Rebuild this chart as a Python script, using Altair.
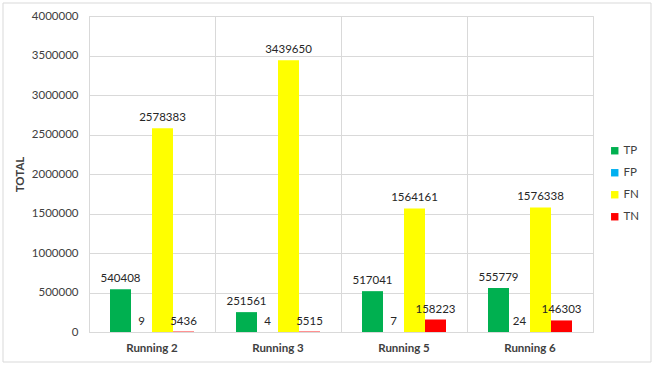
import altair as alt
import pandas as pd

runs = ["Running 2", "Running 3", "Running 5", "Running 6"]
metrics = ["TP", "FP", "FN", "TN"]
colors = ["#00B050", "#00B0F0", "#FFFF00", "#FF0000"]

tp = [540408, 251561, 517041, 555779]
fp = [9, 4, 7, 24]
fn = [2578383, 3439650, 1564161, 1576338]
tn = [5436, 5515, 158223, 146303]
y_ticks = [0, 500000, 1000000, 1500000, 2000000, 2500000, 3000000, 3500000, 4000000]

rows = []
for i, run in enumerate(runs):
    for m, vals in zip(metrics, [tp, fp, fn, tn]):
        rows.append({"run": run, "metric": m, "total": vals[i]})
df = pd.DataFrame(rows)

FONT = "Lato"
GRID = "#d9d9d9"
TEXT = "#404040"

x_enc = alt.X(
    "run:N",
    sort=runs,
    scale=alt.Scale(paddingInner=0, paddingOuter=0),
    axis=alt.Axis(
        title=None,
        labelAngle=0,
        labelFontWeight="bold",
        labelFontSize=11.5,
        labelColor=TEXT,
        labelPadding=10,
        ticks=False,
        domainColor=GRID,
        grid=True,
        gridColor=GRID,
        bandPosition=0,
    ),
)
xoff = alt.XOffset(
    "metric:N",
    sort=metrics,
    scale=alt.Scale(paddingInner=0, paddingOuter=1),
)
y_enc = alt.Y(
    "total:Q",
    scale=alt.Scale(domain=[0, 4000000], nice=False),
    axis=alt.Axis(
        title="TOTAL",
        titleFontWeight="bold",
        titleFontSize=11.5,
        titleColor=TEXT,
        titlePadding=6,
        format="d",
        values=y_ticks,
        labelOverlap=False,
        labelFontSize=11.5,
        labelColor=TEXT,
        labelPadding=11,
        ticks=False,
        domain=False,
        gridColor=GRID,
    ),
)

base = alt.Chart(df)

bars = base.mark_bar().encode(
    x=x_enc,
    xOffset=xoff,
    y=y_enc,
    color=alt.Color(
        "metric:N",
        sort=metrics,
        scale=alt.Scale(domain=metrics, range=colors),
        legend=alt.Legend(
            title=None,
            orient="none",
            legendX=520,
            legendY=129,
            symbolType="square",
            symbolSize=55,
            symbolStrokeWidth=0,
            labelFontSize=11.5,
            labelColor=TEXT,
            labelOffset=3,
            rowPadding=9,
        ),
    ),
)

labels = base.mark_text(
    baseline="bottom", dy=-5, fontSize=11.5, font=FONT, color="#262626"
).encode(
    x=x_enc,
    xOffset=xoff,
    y=y_enc,
    text=alt.Text("total:Q", format="d"),
)

frame = alt.Chart(pd.DataFrame({"k": [0]})).mark_rect(
    fill=None, stroke=GRID, strokeWidth=1, clip=False
).encode(
    x=alt.value(-86), x2=alt.value(562), y=alt.value(-13), y2=alt.value(346)
)

chart = (
    alt.layer(bars, labels, frame)
    .properties(
        width=504,
        height=316,
        autosize=alt.AutoSizeParams(type="none"),
        padding={"left": 89, "top": 16, "right": 61, "bottom": 34},
        background="white",
    )
    .configure(font=FONT)
    .configure_view(stroke=GRID)
)

chart.save("out.html", embed_options={"renderer": "svg", "actions": False})
